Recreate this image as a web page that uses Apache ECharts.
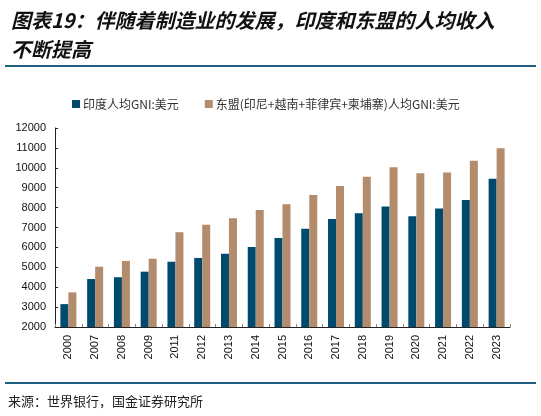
<!DOCTYPE html>
<html>
<head>
<meta charset="utf-8">
<style>
  html, body { margin: 0; padding: 0; background: #fff; }
  #chart { width: 541px; height: 416px; }
</style>
<script src="https://cdn.jsdelivr.net/npm/echarts@6/dist/echarts.min.js"></script>
</head>
<body>
<div id="chart"></div>
<script>
// 印度 vs 东盟 人均GNI bar chart
var years = ["2000", "2007", "2008", "2009", "2011", "2012", "2013", "2014", "2015",
             "2016", "2017", "2018", "2019", "2020", "2021", "2022", "2023"];
var indiaGni = [3150, 4410, 4500, 4780, 5280, 5470, 5680, 6020, 6470,
                6940, 7430, 7710, 8060, 7560, 7960, 8380, 9450];
var aseanGni = [3740, 5030, 5320, 5430, 6760, 7140, 7460, 7880, 8170,
                8630, 9090, 9550, 10030, 9720, 9770, 10360, 10980];
var seriesNames = ["印度人均GNI:美元", "东盟(印尼+越南+菲律宾+柬埔寨)人均GNI:美元"];

(function () {
  var el = document.getElementById("chart");
  var chart = echarts.init(el, null, { renderer: "canvas" });
  var cjk = '"Noto Sans CJK SC", "Liberation Sans", sans-serif';
  var num = '"Liberation Sans", Arial, sans-serif';

  chart.setOption({
    animation: false,
    backgroundColor: "#ffffff",
    title: {
      text: "图表19：伴随着制造业的发展，印度和东盟的人均收入\n不断提高",
      left: 6,
      top: 1,
      textStyle: {
        fontFamily: cjk,
        fontSize: 20,
        fontWeight: "bold",
        fontStyle: "italic",
        color: "#111111",
        lineHeight: 29
      }
    },
    legend: {
      top: 93,
      left: 67,
      itemWidth: 8,
      itemHeight: 8,
      itemGap: 26,
      icon: "rect",
      textStyle: { fontFamily: cjk, fontSize: 12, color: "#333333", padding: [0, 0, 0, -2] },
      data: seriesNames
    },
    grid: { left: 55, right: 31, top: 128, bottom: 89, containLabel: false },
    xAxis: {
      type: "category",
      data: years,
      axisLine: { lineStyle: { color: "#222222", width: 1 } },
      axisTick: { show: true, inside: true, length: 3, lineStyle: { color: "#888888" } },
      axisLabel: {
        rotate: 90,
        fontFamily: num,
        fontSize: 11,
        color: "#111111",
        margin: 8
      }
    },
    yAxis: {
      type: "value",
      min: 2000,
      max: 12000,
      interval: 1000,
      splitLine: { show: false },
      axisLine: { show: true, lineStyle: { color: "#222222", width: 1 } },
      axisTick: { show: true, inside: true, length: 3, lineStyle: { color: "#222222" } },
      axisLabel: {
        fontFamily: num,
        fontSize: 11,
        color: "#111111",
        margin: 9,
        formatter: function (v) { return String(v); }
      }
    },
    series: [
      {
        name: seriesNames[0],
        type: "bar",
        data: indiaGni,
        barWidth: 8,
        barGap: "0%",
        itemStyle: { color: "#004A6E" }
      },
      {
        name: seriesNames[1],
        type: "bar",
        data: aseanGni,
        barWidth: 8,
        barGap: "0%",
        itemStyle: { color: "#B38B6D" }
      }
    ],
    graphic: [
      {
        type: "rect",
        shape: { x: 5, y: 65, width: 531, height: 2 },
        style: { fill: "#1F5F82" }
      },
      {
        type: "rect",
        shape: { x: 5, y: 382, width: 531, height: 2 },
        style: { fill: "#1F5F82" }
      },
      {
        type: "text",
        left: 8,
        top: 395,
        style: {
          text: "来源：世界银行，国金证券研究所",
          fontFamily: cjk,
          fontSize: 13,
          fill: "#222222"
        }
      }
    ]
  });
})();
</script>
</body>
</html>
